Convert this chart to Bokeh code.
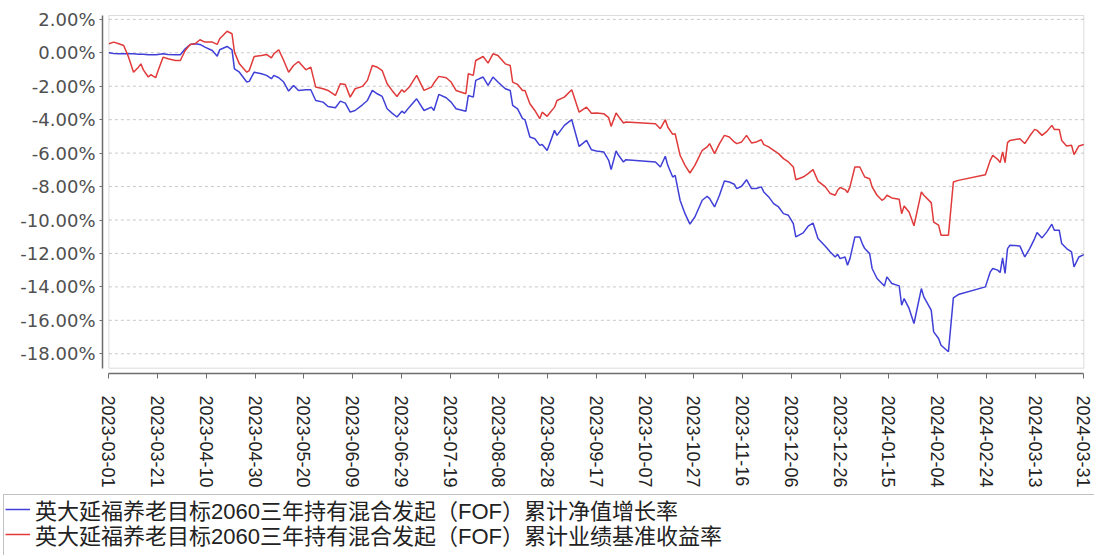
import pandas as pd
from bokeh.plotting import figure
from bokeh.models import (FixedTicker, Legend, LegendItem, BoxAnnotation, Range1d,
                          ColumnDataSource, LinearAxis, DatetimeAxis)
from bokeh.embed import file_html
from bokeh.resources import INLINE

# ---------------- data ----------------
dates = [
    "2023-03-01", "2023-03-03", "2023-03-05", "2023-03-07", "2023-03-09", "2023-03-11", "2023-03-13",
    "2023-03-14", "2023-03-15", "2023-03-17", "2023-03-18", "2023-03-20", "2023-03-21", "2023-03-23",
    "2023-03-25", "2023-03-28", "2023-03-30",
    "2023-04-01", "2023-04-03", "2023-04-05", "2023-04-07", "2023-04-09", "2023-04-12", "2023-04-14",
    "2023-04-15", "2023-04-18", "2023-04-20", "2023-04-21", "2023-04-23", "2023-04-26", "2023-04-27",
    "2023-04-29",
    "2023-05-02", "2023-05-04", "2023-05-06", "2023-05-07", "2023-05-09", "2023-05-11", "2023-05-13",
    "2023-05-15", "2023-05-17", "2023-05-20", "2023-05-22", "2023-05-24", "2023-05-27", "2023-05-29",
    "2023-06-01", "2023-06-03", "2023-06-05", "2023-06-07", "2023-06-09",
    "2023-06-12", "2023-06-14", "2023-06-16", "2023-06-18", "2023-06-20", "2023-06-22", "2023-06-24",
    "2023-06-26", "2023-06-28", "2023-06-29",
    "2023-07-01", "2023-07-04", "2023-07-07", "2023-07-10", "2023-07-11", "2023-07-13", "2023-07-16",
    "2023-07-18", "2023-07-20", "2023-07-24", "2023-07-25", "2023-07-27", "2023-07-28", "2023-07-31",
    "2023-08-02", "2023-08-04", "2023-08-06", "2023-08-09", "2023-08-11", "2023-08-12", "2023-08-14",
    "2023-08-16", "2023-08-17", "2023-08-19", "2023-08-21", "2023-08-23", "2023-08-24", "2023-08-26",
    "2023-08-29", "2023-08-30",
    "2023-09-02", "2023-09-05", "2023-09-08", "2023-09-11", "2023-09-13",
    "2023-09-15", "2023-09-18", "2023-09-20", "2023-09-21", "2023-09-23", "2023-09-24", "2023-09-26",
    "2023-09-27",
    "2023-10-09", "2023-10-11", "2023-10-13", "2023-10-14", "2023-10-16", "2023-10-17", "2023-10-19",
    "2023-10-21", "2023-10-23", "2023-10-25", "2023-10-28", "2023-10-30", "2023-10-31",
    "2023-11-02", "2023-11-04", "2023-11-06", "2023-11-08", "2023-11-10", "2023-11-11", "2023-11-13",
    "2023-11-15", "2023-11-17", "2023-11-19", "2023-11-21", "2023-11-22", "2023-11-24", "2023-11-26",
    "2023-11-28", "2023-11-30",
    "2023-12-02", "2023-12-04", "2023-12-05", "2023-12-08", "2023-12-10", "2023-12-12", "2023-12-14",
    "2023-12-17", "2023-12-19", "2023-12-21", "2023-12-22", "2023-12-23", "2023-12-25",
    "2023-12-26", "2023-12-27", "2023-12-29", "2023-12-31",
    "2024-01-01", "2024-01-02", "2024-01-04", "2024-01-05", "2024-01-07", "2024-01-09", "2024-01-10",
    "2024-01-11", "2024-01-13", "2024-01-16", "2024-01-17", "2024-01-18", "2024-01-20", "2024-01-22",
    "2024-01-25", "2024-01-26", "2024-01-29", "2024-01-30",
    "2024-02-01", "2024-02-02", "2024-02-05", "2024-02-07", "2024-02-09", "2024-02-20", "2024-02-22",
    "2024-02-23", "2024-02-25", "2024-02-26", "2024-02-27", "2024-02-28", "2024-02-29",
    "2024-03-01", "2024-03-05", "2024-03-07", "2024-03-09", "2024-03-11", "2024-03-12", "2024-03-14",
    "2024-03-16", "2024-03-18", "2024-03-19", "2024-03-21", "2024-03-22", "2024-03-24", "2024-03-26",
    "2024-03-27", "2024-03-29", "2024-03-31",
]

# 累计净值增长率 (%)
nav_growth = [
    0.00, -0.04, -0.06, -0.06, -0.06, -0.06, -0.08, -0.08, -0.08, -0.12, -0.12, -0.12, -0.10, -0.06,
    -0.10, -0.12, -0.12,
    0.24, 0.50, 0.54, 0.50, 0.34, 0.14, -0.20, 0.18, 0.38, 0.18, -0.96, -1.16, -1.75, -1.71, -1.16,
    -1.25, -1.35, -1.55, -1.35, -1.49, -1.75, -2.29, -1.95, -2.25, -2.21, -2.21, -2.85, -2.95, -3.21,
    -3.29, -2.89, -3.01, -3.55, -3.45,
    -3.11, -2.85, -2.25, -2.45, -2.61, -3.35, -3.61, -3.84, -3.49, -3.61,
    -3.25, -2.75, -3.45, -3.25, -3.45, -2.49, -2.69, -2.95, -3.35, -3.49, -2.55, -2.65, -1.65, -1.45,
    -1.95, -1.45, -1.75, -2.15, -2.25, -3.15, -3.35, -3.94, -4.00, -5.04, -5.14, -5.54, -5.48, -5.84,
    -4.64, -4.94,
    -4.34, -4.00, -5.60, -5.24, -5.80,
    -5.87, -5.93, -6.43, -6.99, -5.87, -6.13, -6.53, -6.39,
    -6.53, -6.83, -6.19, -6.73, -7.43, -7.33, -8.82, -9.62, -10.25, -9.82, -8.82, -8.58, -8.72,
    -9.22, -8.52, -7.67, -7.73, -7.86, -8.12, -7.98, -7.59, -8.12, -8.12, -8.02, -8.32, -8.62, -9.02,
    -9.22, -9.62,
    -9.72, -10.22, -11.01, -10.77, -10.37, -10.18, -11.11, -11.57, -11.91, -12.21, -12.05, -12.31, -12.21,
    -12.71, -12.31, -11.01, -11.01,
    -11.41, -11.71, -12.01, -12.90, -13.50, -13.80, -13.94, -13.40, -13.80, -13.94, -15.10, -14.70,
    -15.29, -16.19, -14.10, -14.60, -15.39, -16.69,
    -17.09, -17.49, -17.88, -14.66, -14.46, -14.00, -13.10, -12.90, -13.00, -13.14, -12.27, -13.20, -11.71,
    -11.51, -11.55, -12.21, -11.71, -11.11, -10.75, -11.07, -10.71, -10.25, -10.61, -10.61, -11.41,
    -11.71, -11.91, -12.80, -12.21, -12.07,
]

# 累计业绩基准收益率 (%)
benchmark = [
    0.54, 0.64, 0.54, 0.44, -0.26, -1.16, -0.86, -0.66, -1.02, -1.45, -1.31, -1.49, -1.06, -0.26,
    -0.36, -0.46, -0.46,
    0.14, 0.50, 0.54, 0.78, 0.64, 0.64, 0.50, 0.84, 1.29, 1.14, 0.04, -0.66, -1.16, -1.06, -0.22,
    -0.16, -0.10, -0.30, -0.06, 0.18, -0.46, -1.16, -0.76, -0.52, -1.02, -0.86, -2.05, -2.15, -2.25,
    -2.55, -1.85, -1.89, -2.65, -2.15,
    -2.01, -1.65, -0.76, -0.86, -1.06, -1.85, -2.25, -2.61, -2.21, -2.35,
    -2.05, -1.35, -2.25, -2.05, -1.81, -1.41, -1.49, -1.75, -2.25, -2.45, -1.25, -1.35, -0.46, -0.22,
    -0.62, -0.06, -0.16, -0.66, -0.76, -1.75, -1.89, -2.25, -2.25, -3.05, -3.45, -3.94, -3.55, -3.80,
    -3.25, -2.85,
    -2.65, -2.21, -3.55, -3.25, -3.61,
    -3.60, -3.64, -3.88, -4.40, -3.60, -3.80, -4.20, -4.14,
    -4.24, -4.54, -4.00, -4.44, -4.88, -4.84, -6.13, -6.73, -7.19, -6.73, -5.83, -5.63, -5.43,
    -6.03, -5.43, -4.94, -5.04, -5.33, -5.43, -5.33, -4.94, -5.39, -5.33, -5.20, -5.49, -5.63, -5.83,
    -6.03, -6.33,
    -6.53, -6.83, -7.59, -7.43, -7.23, -6.99, -7.67, -8.02, -8.42, -8.52, -8.22, -8.06, -8.18,
    -8.36, -8.02, -6.83, -6.83,
    -7.13, -7.43, -7.53, -8.02, -8.52, -8.82, -8.72, -8.52, -8.68, -8.76, -9.62, -9.16, -9.52, -10.35,
    -8.32, -8.52, -8.96, -10.12,
    -10.31, -10.91, -10.91, -7.73, -7.63, -7.29, -6.43, -6.13, -6.37, -6.57, -5.93, -6.57, -5.37,
    -5.24, -5.14, -5.43, -4.98, -4.58, -4.64, -4.94, -4.70, -4.34, -4.58, -4.58, -5.24, -5.57, -5.53,
    -6.09, -5.57, -5.49,
]

series_names = [
    "英大延福养老目标2060三年持有混合发起（FOF）累计净值增长率",
    "英大延福养老目标2060三年持有混合发起（FOF）累计业绩基准收益率",
]
series_colors = ["#4040d8", "#e03a3a"]

y_ticks = [-18, -16, -14, -12, -10, -8, -6, -4, -2, 0, 2]
y_tick_labels = ["-18.00%", "-16.00%", "-14.00%", "-12.00%", "-10.00%", "-8.00%",
                 "-6.00%", "-4.00%", "-2.00%", "0.00%", "2.00%"]

x_tick_labels = [
    "2023-03-01", "2023-03-21", "2023-04-10", "2023-04-30", "2023-05-20", "2023-06-09",
    "2023-06-29", "2023-07-19", "2023-08-08", "2023-08-28", "2023-09-17", "2023-10-07",
    "2023-10-27", "2023-11-16", "2023-12-06", "2023-12-26", "2024-01-15", "2024-02-04",
    "2024-02-24", "2024-03-13", "2024-03-31",
]

# ---------------- layout constants (pixels of the 1094x555 page) ----------------
W, H = 1094, 555
DAY_MS = 86400000
px_day0 = 108.4      # x pixel of the first date
px_per_day = 2.462
px_zero = 52.3       # y pixel of 0 %
px_per_pct = 16.72
px_frame_top = 15.0
px_box_bottom = 367.7
px_xaxis = 373.0
px_yaxis = 102.0
px_legend_top = 494.0
legend_row_centers = [508.5, 533.5]
legend_row_h = 34

first_ms = int(pd.Timestamp(x_tick_labels[0]).timestamp() * 1000)
last_ms = int(pd.Timestamp(x_tick_labels[-1]).timestamp() * 1000)


def x_at(px):
    return first_ms + (px - px_day0) / px_per_day * DAY_MS


def y_at(px):
    return (px_zero - px) / px_per_pct


src = ColumnDataSource(dict(date=pd.to_datetime(dates), nav=nav_growth, bench=benchmark))

p = figure(width=W, height=H, output_backend="svg", toolbar_location=None,
           x_axis_location=None, y_axis_location=None, min_border=0,
           x_range=Range1d(x_at(0), x_at(W)), y_range=Range1d(y_at(H), y_at(0)))
p.outline_line_color = None
p.background_fill_color = "white"
p.border_fill_color = "white"
p.xgrid.visible = False
p.ygrid.visible = False

# dashed horizontal grid lines at the y ticks, inside the plot box
grid_src = ColumnDataSource(dict(y=y_ticks))
p.segment(x0=first_ms, x1=last_ms, y0="y", y1="y", source=grid_src,
          line_color="#c8c8c8", line_dash="3 3", line_width=1)

# inner plot box
p.add_layout(BoxAnnotation(left=first_ms, right=last_ms, top=y_at(px_frame_top),
                           bottom=y_at(px_box_bottom), fill_color=None,
                           line_color="#8c8c8c", line_width=1))

r_nav = p.line("date", "nav", source=src, line_color=series_colors[0], line_width=1.5)
r_bench = p.line("date", "bench", source=src, line_color=series_colors[1], line_width=1.5)

# y axis, offset to the left of the box
yaxis = LinearAxis(fixed_location=x_at(px_yaxis), ticker=FixedTicker(ticks=y_ticks),
                   bounds=(y_at(px_box_bottom), y_at(px_frame_top)))
yaxis.major_label_overrides = {t: l for t, l in zip(y_ticks, y_tick_labels)}
yaxis.axis_line_color = "#6e6e6e"
yaxis.axis_line_width = 1.5
yaxis.major_tick_line_color = "#6e6e6e"
yaxis.major_tick_in = 0
yaxis.major_tick_out = 3
yaxis.minor_tick_line_color = None
yaxis.major_label_standoff = 4
yaxis.major_label_text_font = "DejaVu Sans"
yaxis.major_label_text_font_size = "18px"
yaxis.major_label_text_color = "#505050"
p.add_layout(yaxis, "left")

# x axis, offset below the box
n = len(x_tick_labels) - 1
x_ticks = [int(round(first_ms + k * (last_ms - first_ms) / n)) for k in range(n + 1)]
xaxis = DatetimeAxis(fixed_location=y_at(px_xaxis), ticker=FixedTicker(ticks=x_ticks),
                     bounds=(first_ms, last_ms))
xaxis.major_label_overrides = {t: l for t, l in zip(x_ticks, x_tick_labels)}
xaxis.major_label_orientation = "vertical"
xaxis.axis_line_color = "#6e6e6e"
xaxis.axis_line_width = 1.5
xaxis.major_tick_line_color = "#6e6e6e"
xaxis.major_tick_in = 0
xaxis.major_tick_out = 5
xaxis.minor_tick_line_color = None
xaxis.major_label_standoff = 17
xaxis.major_label_text_font = "Liberation Sans"
xaxis.major_label_text_font_size = "18px"
xaxis.major_label_text_color = "#222222"
p.add_layout(xaxis, "below")

# legend frame (runs off the bottom/right edges, as in the original)
p.add_layout(BoxAnnotation(left=x_at(3), right=x_at(W + 10), top=y_at(px_legend_top),
                           bottom=y_at(H + 10), fill_color="white", fill_alpha=1.0,
                           line_color="#333333", line_width=1))

# one legend row per series, transparent, stacked inside the frame
for name, rend, cy in zip(series_names, [r_nav, r_bench], legend_row_centers):
    lg = Legend(
        items=[LegendItem(label=name, renderers=[rend])],
        location=(5, H - cy - legend_row_h / 2), orientation="vertical",
        padding=0, spacing=0, margin=0,
        glyph_width=25, glyph_height=legend_row_h, label_height=legend_row_h,
        label_standoff=5,
        label_text_font="'Liberation Sans', 'Noto Sans CJK SC'", label_text_font_size="22px",
        label_text_color="#222222",
        border_line_color=None, background_fill_alpha=0.0,
    )
    p.add_layout(lg)

open("out.html", "w").write(file_html(p, INLINE))
